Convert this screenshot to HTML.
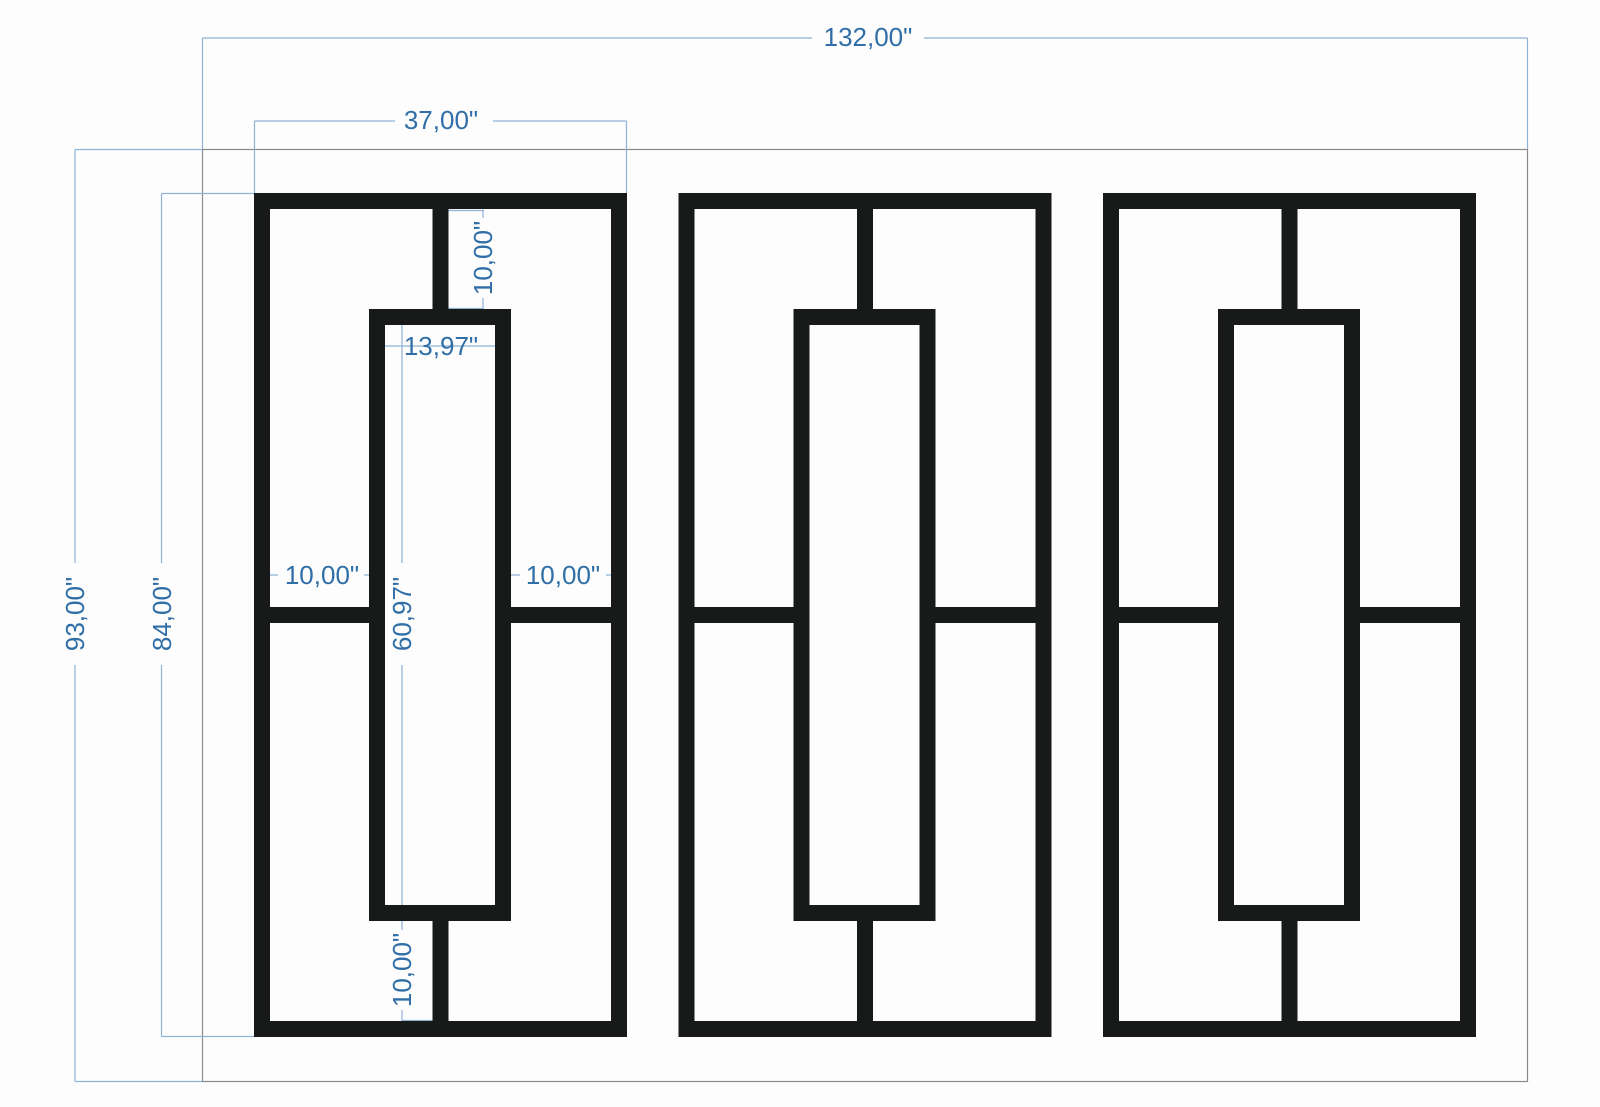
<!DOCTYPE html>
<html><head><style>
html,body{margin:0;padding:0;background:#fdfdfd;}
svg{display:block;}
text{font-family:"Liberation Sans",sans-serif;font-size:26px;fill:#2f6ea6;}
</style></head><body>
<svg width="1600" height="1107" viewBox="0 0 1600 1107" xmlns="http://www.w3.org/2000/svg">
<rect width="1600" height="1107" fill="#fdfdfd"/>
<!-- wall -->
<rect x="202.5" y="149.5" width="1325" height="932" fill="none" stroke="#8a8a8a" stroke-width="1.2"/>
<g stroke="#8fb3d6" stroke-width="1.2" fill="none">
 <!-- top 132 -->
 <line x1="202.5" y1="38" x2="1527.5" y2="38"/>
 <line x1="202.5" y1="38" x2="202.5" y2="149"/>
 <line x1="1527.5" y1="38" x2="1527.5" y2="149"/>
 <!-- 37 -->
 <line x1="254.5" y1="121" x2="626.5" y2="121"/>
 <line x1="254.5" y1="121" x2="254.5" y2="193"/>
 <line x1="626.5" y1="121" x2="626.5" y2="193"/>
 <!-- 93 -->
 <line x1="75" y1="149.5" x2="75" y2="1081.5"/>
 <line x1="75" y1="149.5" x2="202" y2="149.5"/>
 <line x1="75" y1="1081.5" x2="202" y2="1081.5"/>
 <!-- 84 -->
 <line x1="161.5" y1="193.5" x2="161.5" y2="1036.5"/>
 <line x1="161.5" y1="193.5" x2="254" y2="193.5"/>
 <line x1="161.5" y1="1036.5" x2="254" y2="1036.5"/>
 <!-- 10 top -->
 <line x1="483" y1="210" x2="483" y2="309"/>
 <line x1="448" y1="210.5" x2="484" y2="210.5"/>
 <line x1="448" y1="308.5" x2="484" y2="308.5"/>
 <!-- 13,97 -->
 <line x1="370" y1="346" x2="511" y2="346"/>
 <!-- 60,97 & 10 bottom -->
 <line x1="402" y1="309" x2="402" y2="1021"/>
 <line x1="402" y1="1020.5" x2="433" y2="1020.5"/>
 <!-- 10 left/right -->
 <line x1="270" y1="575" x2="369" y2="575"/>
 <line x1="511" y1="575" x2="611" y2="575"/>
</g>
<!-- panels -->
<g fill="none" stroke="#181a19" stroke-width="16">
 <g id="p">
  <rect x="262" y="201" width="357" height="828"/>
  <rect x="377" y="317" width="126" height="596"/>
  <line x1="440.5" y1="201" x2="440.5" y2="317"/>
  <line x1="440.5" y1="913" x2="440.5" y2="1029"/>
  <line x1="262" y1="615" x2="377" y2="615"/>
  <line x1="503" y1="615" x2="619" y2="615"/>
 </g>
 <use href="#p" x="424.5"/>
 <use href="#p" x="849"/>
</g>
<!-- label backgrounds -->
<g fill="#fdfdfd">
 <rect x="812" y="22" width="112" height="32"/>
 <rect x="395" y="105" width="98" height="32"/>
 <rect x="60" y="563" width="30" height="102"/>
 <rect x="147" y="563" width="30" height="102"/>
 <rect x="468" y="218" width="30" height="80"/>
 <rect x="387" y="563" width="30" height="102"/>
 <rect x="387" y="930" width="30" height="80"/>
 <rect x="278" y="560" width="86" height="30"/>
 <rect x="520" y="560" width="86" height="30"/>
</g>
<text x="868" y="46" text-anchor="middle">132,00"</text>
<text x="441" y="129" text-anchor="middle">37,00"</text>
<text x="441" y="355" text-anchor="middle">13,97"</text>
<text x="322" y="584" text-anchor="middle">10,00"</text>
<text x="563" y="584" text-anchor="middle">10,00"</text>
<text transform="translate(84,614) rotate(-90)" text-anchor="middle">93,00"</text>
<text transform="translate(171,614) rotate(-90)" text-anchor="middle">84,00"</text>
<text transform="translate(492,258) rotate(-90)" text-anchor="middle">10,00"</text>
<text transform="translate(411,614) rotate(-90)" text-anchor="middle">60,97"</text>
<text transform="translate(411,970) rotate(-90)" text-anchor="middle">10,00"</text>
</svg>
</body></html>
